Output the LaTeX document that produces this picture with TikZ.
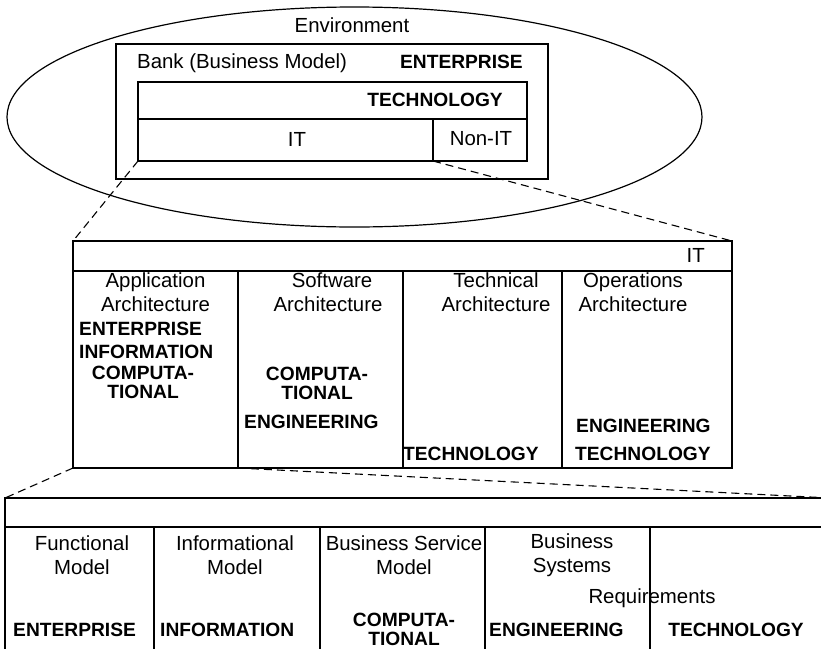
\documentclass[tikz,border=0pt]{standalone}
\usepackage{fontspec}
\setmainfont{Liberation Sans}
\usepackage{tikz}
\usetikzlibrary{shapes,calc}
\tikzstyle{frame}=[draw, line width=1.2pt, anchor=north west,% plain box, placed by its top left corner
inner sep=0pt, outer sep=0pt]
\tikzstyle{lbl}=[inner sep=0pt, align=center, font=\fontsize{20.4}{24}\selectfont]
\tikzstyle{vp}=[inner sep=0pt, align=center, font=\bfseries\fontsize{19.2}{19}\selectfont]
\tikzstyle{zoom}=[dash pattern=on 8pt off 5pt, line width=1.1pt]

\begin{document}
\begin{tikzpicture}[x=1pt,y=-1pt]
\clip (0,0) rectangle (821,648);
% environment and bank
\node[ellipse, draw, line width=1.2pt, minimum width=695pt, minimum height=220pt, inner sep=0pt] (env) at (354.5,117) {};
\node[lbl] (envtxt) at (352,25) {Environment};
\node[frame, minimum width=432pt, minimum height=135pt] (bank) at (116,44) {};
\node[lbl, anchor=west] (banktxt) at (137,63) {Bank (Business Model)};
\node[vp, anchor=east] (bankvp) at (523,62) {ENTERPRISE};
\node[frame, minimum width=389pt, minimum height=37pt] (tech) at (138,82) {};
\node[vp] (techvp) at (435,100) {TECHNOLOGY};
\node[frame, minimum width=295pt, minimum height=42pt] (itcell) at (138,119) {};
\node[frame, minimum width=94pt, minimum height=42pt] (nonit) at (433,119) {};
\node[lbl] (ittxt) at (297,139) {IT};
\node[lbl] (nonittxt) at (481,139) {Non-IT};
% IT
\node[frame, minimum width=659pt, minimum height=30pt] (ithead) at (73,241) {};
\node[lbl, anchor=east] (itheadtxt) at (705,255) {IT};
\node[frame, minimum width=165pt, minimum height=197pt] (app) at (73,271) {};
\node[frame, minimum width=165pt, minimum height=197pt] (soft) at (238,271) {};
\node[frame, minimum width=159pt, minimum height=197pt] (techarch) at (403,271) {};
\node[frame, minimum width=170pt, minimum height=197pt] (ops) at (562,271) {};
\node[lbl] (apptxt) at (155.5,292) {Application\\Architecture};
\node[lbl] (softtxt) at (328,292) {\hspace*{8pt}Software\\Architecture};
\node[lbl] (techtxt) at (496,292) {Technical\\Architecture};
\node[lbl] (opstxt) at (633,292) {Operations\\Architecture};
\node[vp, anchor=west] (appent) at (79,329) {ENTERPRISE};
\node[vp, anchor=west] (appinf) at (79,352) {INFORMATION};
\node[vp] (appcomp) at (143,382) {COMPUTA-\\TIONAL};
\node[vp] (softcomp) at (317,383) {COMPUTA-\\TIONAL};
\node[vp, anchor=west] (softeng) at (244,422) {ENGINEERING};
\node[vp, anchor=west] (techtech) at (403,454) {TECHNOLOGY};
\node[vp, anchor=west] (opseng) at (576,426) {ENGINEERING};
\node[vp, anchor=west] (opstech) at (575,454) {TECHNOLOGY};
% application architecture
\node[frame, minimum width=825pt, minimum height=29pt] (bmhead) at (5,498) {};
\node[frame, minimum width=149pt, minimum height=160pt] (func) at (5,527) {};
\node[frame, minimum width=166pt, minimum height=160pt] (info) at (154,527) {};
\node[frame, minimum width=165pt, minimum height=160pt] (serv) at (320,527) {};
\node[frame, minimum width=165pt, minimum height=160pt] (sys) at (485,527) {};
\node[frame, minimum width=180pt, minimum height=160pt] (rest) at (650,527) {};
\node[lbl] (functxt) at (82,555) {Functional\\Model};
\node[lbl] (infotxt) at (235,555) {Informational\\Model};
\node[lbl] (servtxt) at (404,555) {Business Service\\Model};
\node[lbl] (systxt) at (572,555) {Business\\Systems};
\node[lbl] (reqtxt) at (652,598) {Requirements};
\node[vp, anchor=west] (funcvp) at (13,630) {ENTERPRISE};
\node[vp, anchor=west] (infovp) at (160,630) {INFORMATION};
\node[vp] (servvp) at (404,629) {COMPUTA-\\TIONAL};
\node[vp, anchor=west] (sysvp) at (489,630) {ENGINEERING};
\node[vp] (restvp) at (736,630) {TECHNOLOGY};
% zoom lines
\draw[zoom] (itcell.south west) -- (ithead.north west);
\draw[zoom] (nonit.south west) -- (ithead.north east);
\draw[zoom] (app.south west) -- (bmhead.north west);
\draw[zoom] (app.south east) -- (bmhead.north east);
\end{tikzpicture}
\end{document}
